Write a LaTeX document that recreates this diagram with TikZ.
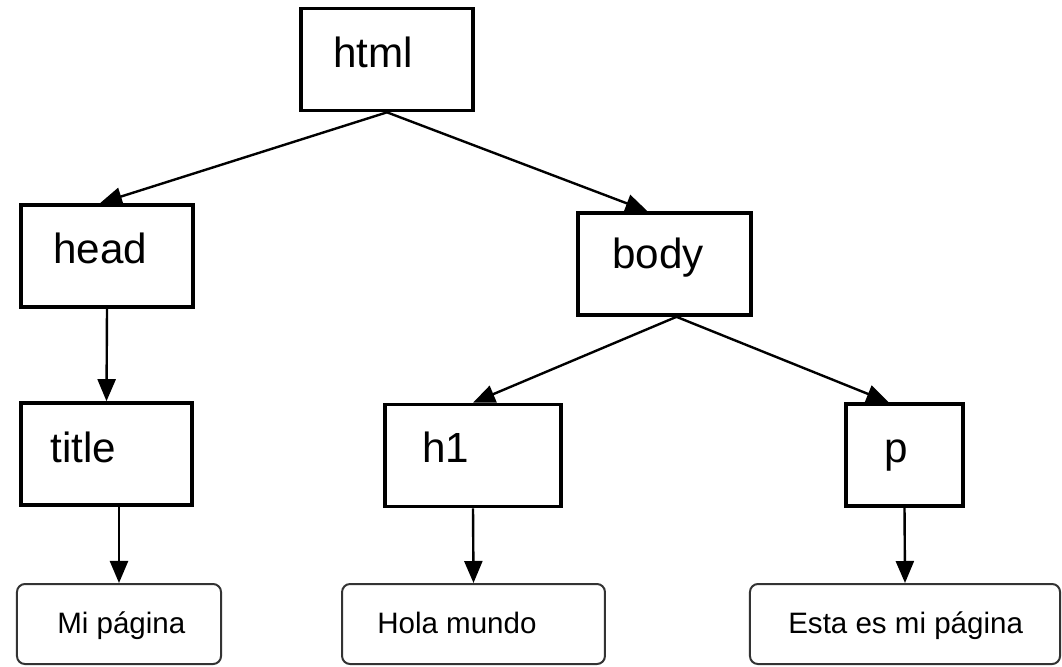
\documentclass[tikz,border=0pt]{standalone}
\usepackage{fontspec}
\setmainfont{Liberation Sans}
\usetikzlibrary{arrows.meta,calc}

\tikzset{
  box/.style={draw, line width=0.09cm, inner sep=0pt, minimum height=2.55cm},
  leaf/.style={draw=black!80, line width=0.05cm, rounded corners=0.2cm, inner sep=0pt, minimum height=2cm},
  tag/.style={anchor=base west, inner sep=0pt, font=\fontsize{30}{36}\selectfont},
  txt/.style={anchor=base west, inner sep=0pt, font=\fontsize{21}{25}\selectfont},
  arr/.style={line width=0.06cm, -{Triangle[length=0.55cm,width=0.45cm]}}
}

\begin{document}
\begin{tikzpicture}[x=0.025cm, y=-0.025cm]
    \useasboundingbox (0,0) rectangle (1062,666);

    % tag boxes
    \node[box, minimum width=4.3cm] (html) at (387,59.5) {};
    \node[box, minimum width=4.3cm] (head) at (107,256) {};
    \node[box, minimum width=4.32cm] (body) at (664.5,264) {};
    \node[box, minimum width=4.28cm] (title) at (106.5,454) {};
    \node[box, minimum width=4.4cm] (h1) at (473,455.5) {};
    \node[box, minimum width=2.92cm] (p) at (904.5,455) {};

    % text boxes
    \node[leaf, minimum width=5.1cm] (mi) at (119,624) {};
    \node[leaf, minimum width=6.57cm] (hola) at (473.5,624) {};
    \node[leaf, minimum width=7.75cm] (esta) at (905,624) {};

    % labels
    \node[tag] (html-l) at (333,67) {html};
    \node[tag] (head-l) at (53,263) {head};
    \node[tag] (body-l) at (612,268) {body};
    \node[tag] (title-l) at (50,462) {title};
    \node[tag] (h1-l) at (422,462) {h1};
    \node[tag] (p-l) at (884,462) {p};
    \node[txt] (mi-l) at (57,633) {Mi página};
    \node[txt] (hola-l) at (377,633) {Hola mundo};
    \node[txt] (esta-l) at (788,633) {Esta es mi página};

    \draw[arr] (html.south) -- ($(head.north)+(-7,0)$);
    \draw[arr] (html.south) -- ($(body.north)+(-17,0)$);
    \draw[arr] (head.south) -- (title.north);
    \draw[arr] ($(body.south)+(12,0)$) -- (h1.north);
    \draw[arr] ($(body.south)+(12,0)$) -- ($(p.north)+(-16,0)$);
    \draw[arr] (mi.north |- title.south) -- (mi.north);
    \draw[arr] (h1.south) -- (hola.north);
    \draw[arr] (p.south) -- (esta.north);
\end{tikzpicture}
\end{document}
